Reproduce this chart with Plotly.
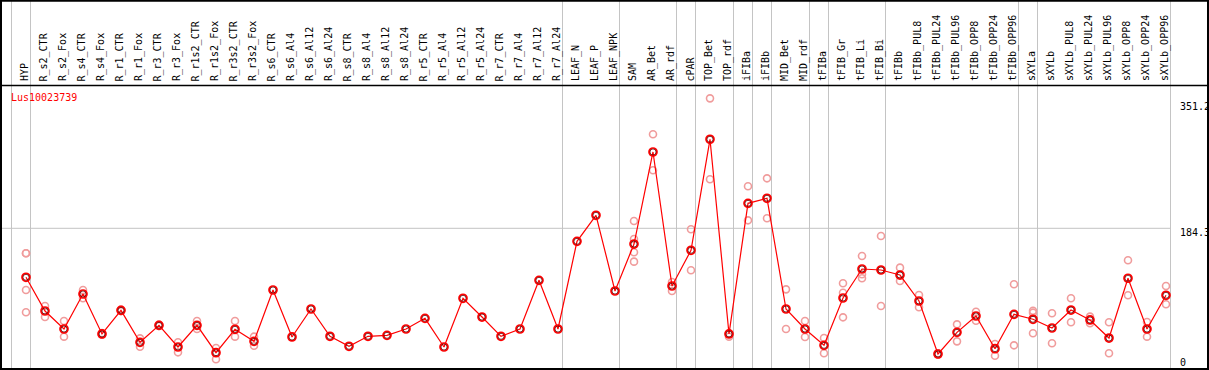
import plotly.graph_objects as go

# ---------------- data ----------------
title_text = "Lus10023739"

categories = [
    "HYP", "R_s2_CTR", "R_s2_Fox", "R_s4_CTR", "R_s4_Fox", "R_r1_CTR", "R_r1_Fox",
    "R_r3_CTR", "R_r3_Fox", "R_r1s2_CTR", "R_r1s2_Fox", "R_r3s2_CTR", "R_r3s2_Fox",
    "R_s6_CTR", "R_s6_Al4", "R_s6_Al12", "R_s6_Al24", "R_s8_CTR", "R_s8_Al4",
    "R_s8_Al12", "R_s8_Al24", "R_r5_CTR", "R_r5_Al4", "R_r5_Al12", "R_r5_Al24",
    "R_r7_CTR", "R_r7_Al4", "R_r7_Al12", "R_r7_Al24", "LEAF_N", "LEAF_P", "LEAF_NPK",
    "SAM", "AR_Bet", "AR_rdf", "cPAR", "TOP_Bet", "TOP_rdf", "iFIBa", "iFIBb",
    "MID_Bet", "MID_rdf", "tFIBa", "tFIB_Gr", "tFIB_Li", "tFIB_Bi", "tFIBb",
    "tFIBb_PUL8", "tFIBb_PUL24", "tFIBb_PUL96", "tFIBb_OPP8", "tFIBb_OPP24",
    "tFIBb_OPP96", "sXYLa", "sXYLb", "sXYLb_PUL8", "sXYLb_PUL24", "sXYLb_PUL96",
    "sXYLb_OPP8", "sXYLb_OPP24", "sXYLb_OPP96",
]

means = [
    119.2, 74.4, 50.5, 97.0, 43.9, 75.3, 32.8, 55.4, 26.6, 55.4, 19.0, 50.1, 34.1,
    102.3, 39.9, 77.1, 40.8, 27.5, 40.8, 42.1, 50.5, 64.7, 26.6, 91.3, 66.4,
    40.8, 50.5, 115.2, 50.5, 167.0, 201.6, 101.0,
    163.4, 285.7, 107.6, 155.1, 302.6, 43.9, 217.5, 224.2,
    77.1, 50.5, 28.8, 91.7, 130.2, 128.9, 122.2,
    87.7, 17.3, 46.1, 67.8, 24.3, 70.0,
    63.4, 51.8, 75.7, 62.5, 38.5, 117.9, 50.5, 95.3,
]

replicates = [
    [151.1, 151.1, 102.3, 72.7], [81.1, 66.4], [61.1, 40.3], [102.3, 91.3],
    [45.0, 43.0], [76.3, 74.3], [38.1, 27.0], [56.4, 54.4], [32.8, 19.5],
    [61.1, 50.5], [25.2, 10.2], [61.1, 40.3], [40.3, 28.3],
    [], [], [], [], [], [], [], [], [], [], [], [], [], [], [], [], [], [], [],
    [194.0, 170.1, 152.4, 140.0], [309.2, 261.4], [112.9, 101.0], [183.0, 128.5],
    [357.0, 249.4], [40.3, 44.5], [240.1, 194.9], [250.7, 197.6],
    [103.2, 50.5], [61.1, 39.9], [38.5, 18.2], [111.2, 98.7, 66.0],
    [147.5, 123.2, 117.9], [174.1, 128.9, 81.1], [132.0, 114.3],
    [95.7, 79.3], [18.3, 16.3], [56.7, 34.1], [73.5, 61.5], [30.6, 15.0], [109.9, 28.8],
    [74.8, 72.2, 44.8], [71.4, 31.5], [91.3, 59.4], [66.9, 58.1], [59.4, 18.2],
    [141.8, 95.3], [59.8, 40.3], [107.6, 83.3],
]

group_starts = [0, 1, 29, 32, 35, 36, 38, 39, 40, 42, 43, 46, 53, 54, 61]
right_ticks = [351.2, 184.3, 0]

# ---------------- pixel calibration ----------------
W, H = 1209, 370
X0, DX = 26.0, 19.0        # pixel x of first category, spacing
Y0, KY = 367.0, 1.3288     # pixel y of value 0, value per pixel
HEADER_Y = 85.5

xr = [(0 - X0) / DX, (W - X0) / DX]
yr = [(Y0 - H) * KY, Y0 * KY]


def px_to_paper_y(p):
    return 1 - p / H


def px_to_paper_x(p):
    return p / W


MONO = "DejaVu Sans Mono"

fig = go.Figure()

# replicate points
rx, ry = [], []
for i, rs in enumerate(replicates):
    for v in rs:
        rx.append(i)
        ry.append(v)
fig.add_trace(go.Scatter(
    x=rx, y=ry, mode="markers", hoverinfo="skip",
    marker=dict(symbol="circle-open", size=7, color="#f09c9c", line=dict(width=1.6)),
))

# mean line
xs = list(range(len(categories)))
fig.add_trace(go.Scatter(
    x=xs, y=means, mode="lines", line=dict(color="#ff0000", width=1.2), hoverinfo="skip",
))
# mean markers (red ring with thin dark inner ring)
fig.add_trace(go.Scatter(
    x=xs, y=means, mode="markers", hoverinfo="skip",
    marker=dict(symbol="circle-open", size=8, color="#ff0000", line=dict(width=1.7)),
))
fig.add_trace(go.Scatter(
    x=xs, y=means, mode="markers", hoverinfo="skip",
    marker=dict(symbol="circle-open", size=6, color="#500000", line=dict(width=0.7)),
))

shapes = []
# group separators (full height)
for k in group_starts:
    xv = k - 0.5 - 5.0 / DX
    shapes.append(dict(type="line", xref="x", yref="paper", x0=xv, x1=xv, y0=0, y1=1,
                       line=dict(color="#c4c4c4", width=1), layer="below"))
# horizontal grid line at middle tick
gx1 = (group_starts[-1] - 0.5 - 5.0 / DX)
shapes.append(dict(type="line", xref="paper", yref="y", x0=0, x1=px_to_paper_x(X0 + gx1 * DX),
                   y0=right_ticks[1], y1=right_ticks[1],
                   line=dict(color="#c4c4c4", width=1), layer="below"))
# header separator
shapes.append(dict(type="line", xref="paper", yref="paper", x0=0, x1=1,
                   y0=px_to_paper_y(HEADER_Y), y1=px_to_paper_y(HEADER_Y),
                   line=dict(color="black", width=1.6)))
# outer frame
shapes.append(dict(type="rect", xref="paper", yref="paper",
                   x0=px_to_paper_x(1), x1=px_to_paper_x(W - 1),
                   y0=px_to_paper_y(H - 1), y1=px_to_paper_y(0.8),
                   line=dict(color="black", width=2), fillcolor="rgba(0,0,0,0)"))

annotations = []
for i, c in enumerate(categories):
    annotations.append(dict(
        x=i - 1.5 / DX, xref="x", y=px_to_paper_y(83.5), yref="paper",
        text=c, textangle=-90, showarrow=False, xanchor="center", yanchor="bottom",
        font=dict(family=MONO, size=10, color="black"),
    ))

for v in right_ticks:
    p = Y0 - v / KY
    center = min(p + 4, 362)
    annotations.append(dict(
        x=px_to_paper_x(1178), xref="paper", y=v, yref="y", yshift=-(center - p),
        text=f"{v:g}", showarrow=False, xanchor="left", yanchor="middle",
        font=dict(family=MONO, size=10, color="black"),
    ))

annotations.append(dict(
    x=px_to_paper_x(9), xref="paper", y=px_to_paper_y(97), yref="paper",
    text=title_text, showarrow=False, xanchor="left", yanchor="middle",
    font=dict(family=MONO, size=10, color="#ff0000"),
))

fig.update_layout(
    width=W, height=H,
    margin=dict(l=0, r=0, t=0, b=0, pad=0, autoexpand=False),
    paper_bgcolor="white", plot_bgcolor="white",
    showlegend=False,
    xaxis=dict(range=xr, visible=False, fixedrange=True),
    yaxis=dict(range=yr, visible=False, fixedrange=True),
    shapes=shapes, annotations=annotations,
)

fig.write_html(
    "out.html",
    config={"displayModeBar": False},
    post_script="document.body.style.margin='0';document.body.style.padding='0';"
                "document.documentElement.style.overflow='hidden';",
)
